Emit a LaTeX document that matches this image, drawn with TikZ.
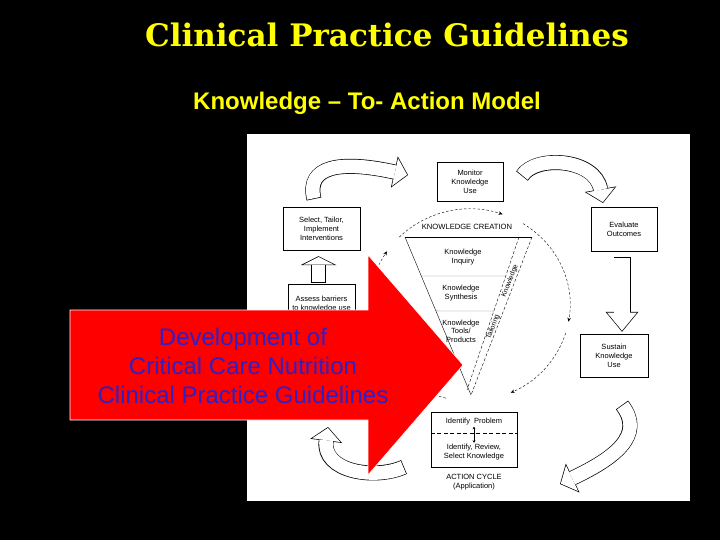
\documentclass[tikz,border=0pt]{standalone}
\usepackage{fontspec}
\setmainfont{Liberation Sans}
\newfontfamily\titlefont{DejaVu Serif}
\usetikzlibrary{positioning,calc,arrows.meta}

\definecolor{slideyellow}{RGB}{255,255,0}
\definecolor{slideblue}{RGB}{48,32,196}
\definecolor{slidered}{RGB}{255,0,0}

\begin{document}
\begin{tikzpicture}[
        x=1pt, y=-1pt,
        box/.style={draw, thin, align=center, font=\fontsize{7.5}{9}\selectfont, inner sep=1pt},
        txt/.style={align=center, font=\fontsize{7.5}{9}\selectfont, inner sep=1pt},
        sidetxt/.style={font=\fontsize{7}{7}\selectfont, inner sep=0pt, rotate=69},
        cyclearc/.style={thin, dash pattern=on 2.5pt off 2pt, -{Stealth[length=4pt,width=3.5pt]}},
        hollowcurve/.style={line width=13.6pt, white, shorten <=0.7pt, shorten >=0.93pt,
            -{Triangle[length=12.4pt,width=28.3pt,line width=0pt]},
            preaction={draw=black, line width=15pt, shorten <=0pt, shorten >=0pt,
                -{Triangle[length=14pt,width=32pt,line width=0pt]}}},
        hollowup/.style={line width=13.6pt, white, shorten <=0.7pt, shorten >=0.8pt,
            -{Triangle[length=7.5pt,width=30pt,line width=0pt]},
            preaction={draw=black, line width=15pt, shorten <=0pt, shorten >=0pt,
                -{Triangle[length=9pt,width=36pt,line width=0pt]}}},
        hollowdown/.style={line width=15.6pt, white, shorten <=0.7pt, shorten >=1.1pt,
            -{Triangle[length=18.2pt,width=30pt,line width=0pt]},
            preaction={draw=black, line width=17pt, shorten <=0pt, shorten >=0pt,
                -{Triangle[length=20pt,width=33pt,line width=0pt]}}}
    ]
    % Slide and white panel
    \fill[black] (0,0) rectangle (720,540);
    \useasboundingbox (0,0) rectangle (720,540);
    \fill[white] (247,134) rectangle (690,501);

    % Titles
    \node[text=slideyellow, font=\titlefont\bfseries\fontsize{31}{33}\selectfont] (title) at (387,35) {Clinical Practice Guidelines};
    \node[text=slideyellow, font=\bfseries\fontsize{24}{26}\selectfont] (subtitle) at (367,103) {Knowledge – To- Action Model};

    % Boxes of the action cycle
    \node[box, minimum width=66pt, minimum height=39pt] (monitor) at (470,181.5) {Monitor\\Knowledge\\Use};
    \node[box, minimum width=77pt, minimum height=43pt] (select) at (321.5,228.5) {Select, Tailor,\\Implement\\Interventions};
    \node[box, minimum width=67pt, minimum height=40pt] (assess) at (321.5,304) {Assess barriers\\to knowledge use};
    \node[box, minimum width=66pt, minimum height=44pt] (evaluate) at (624,229) {Evaluate\\Outcomes};
    \node[box, minimum width=68pt, minimum height=43pt] (sustain) at (614,355.5) {Sustain\\Knowledge\\Use};
    \node[box, minimum width=86pt, minimum height=55pt] (action) at (474,439.5) {};
    \node[txt] (problem) at (474,422) {Identify\ \ Problem};
    \node[txt] (review) at (474,452) {Identify, Review,\\Select Knowledge};
    \draw[thick, dash pattern=on 4pt off 2.5pt] ([yshift=6.5pt]action.west) -- ([yshift=6.5pt]action.east);
    \draw[thin, {Stealth[length=2.5pt,width=3pt]}-{Stealth[length=2.5pt,width=3pt]}] (problem.south) -- (review.north);
    \node[txt, below=6pt of action] (actlabel) {ACTION CYCLE\\(Application)};

    % Knowledge creation funnel
    \coordinate (ftl) at (405,237);
    \coordinate (ftr) at (532,237);
    \coordinate (ftip) at (471,395);
    \coordinate (fin) at (519,237);
    \coordinate (finb) at (467,390);
    \draw (ftl) -- (ftr);
    \draw (ftl) -- (ftip);
    \draw[densely dashed] (ftr) -- (ftip);
    \draw[densely dashed] (fin) -- (finb);
    \draw[gray] ($(ftl)!0.247!(ftip)$) -- ($(fin)!0.255!(finb)$);
    \draw[gray] ($(ftl)!0.468!(ftip)$) -- ($(fin)!0.484!(finb)$);
    \node[txt, font=\fontsize{7.6}{8}\selectfont] (creation) at (467,227) {KNOWLEDGE CREATION};
    \node[txt] (inquiry) at (463,257) {Knowledge\\Inquiry};
    \node[txt] (synthesis) at (461,293) {Knowledge\\Synthesis};
    \node[txt, font=\fontsize{7.5}{8.5}\selectfont] (tools) at (461,331) {Knowledge\\Tools/\\Products};
    \node[sidetxt] (tailorup) at (510,281) {Knowledge};
    \node[sidetxt] (tailorlow) at (493,327) {Tailoring};

    % Dashed knowledge-to-action cycle
    \coordinate (kc) at (470,305);
    \draw[cyclearc] (kc) ++(104:100 and 96) arc[start angle=104, end angle=214, x radius=100, y radius=96];
    \draw[cyclearc] (kc) ++(225:100 and 96) arc[start angle=225, end angle=289, x radius=100, y radius=96];
    \draw[cyclearc] (kc) ++(302:100 and 96) arc[start angle=302, end angle=370, x radius=100, y radius=96];
    \draw[cyclearc] (kc) ++(17:100 and 96) arc[start angle=17, end angle=66, x radius=100, y radius=96];

    % Hollow arrows between the phases
    \coordinate (tlA) at (314,199);
    \coordinate (tlB) at (408,175);
    \coordinate (trA) at (522,176);
    \coordinate (trB) at (603,203);
    \coordinate (brA) at (622,405);
    \coordinate (brB) at (560,484);
    \coordinate (blA) at (404,467);
    \coordinate (blB) at (328,427);
    \draw[hollowcurve] (tlA) .. controls (306,166) and (340,160) .. (tlB);
    \draw[hollowcurve] (trA) .. controls (535,155) and (595,158) .. (trB);
    \draw[hollowcurve] (brA) .. controls (645,435) and (615,458) .. (brB);
    \draw[hollowcurve] (blA) .. controls (375,480) and (322,472) .. (blB);
    \draw[hollowup] ($(assess.north)+(-3,-1)$) -- ($(select.south)+(-3,6)$);
    \draw[hollowdown] ($(evaluate.south)+(-2,6)$) -- ($(sustain.north)+(8,-2)$);

    % Red arrow with its text
    \fill[slidered, draw=white, line width=0.6pt] (70,310) -- (368,310) -- (368,255) -- (463,365)
        -- (368,475) -- (368,420) -- (70,420) -- cycle;
    \node[text=slideblue, font=\fontsize{24}{29}\selectfont, align=center] (devtext) at (243,366)
        {Development of\\Critical Care Nutrition\\Clinical Practice Guidelines};
\end{tikzpicture}
\end{document}
